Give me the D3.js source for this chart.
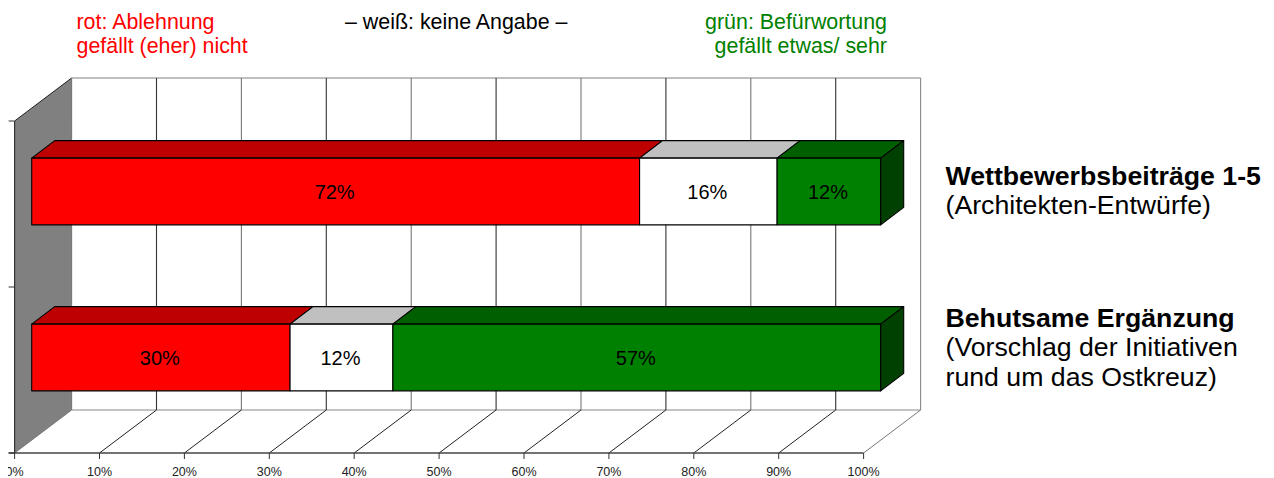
<!DOCTYPE html>
<html><head><meta charset="utf-8">
<script src="https://cdn.jsdelivr.net/npm/d3@7"></script>
<style>html,body{margin:0;padding:0;background:#fff}svg{display:block}text{font-family:"Liberation Sans",Arial,sans-serif}</style>
</head><body><svg id="c" width="1274" height="478"></svg>
<script>
const categories = ["Wettbewerbsbeiträge 1-5", "Behutsame Ergänzung"];
const categoryNotes = [["(Architekten-Entwürfe)"], ["(Vorschlag der Initiativen", "rund um das Ostkreuz)"]];
const ablehnung = [71.6, 30.4];
const keineAngabe = [16.2, 12.1];
const befuerwortung = [12.2, 57.4];
const seriesNames = ["ablehnung", "keineAngabe", "befuerwortung"];
const barLabels = [["72%", "16%", "12%"], ["30%", "12%", "57%"]];
const tickValues = [0, .1, .2, .3, .4, .5, .6, .7, .8, .9, 1];
const frontColors = ["#ff0000", "#ffffff", "#008000"];
const topColors = ["#bf0000", "#c0c0c0", "#006000"];
const sideColor = "#004000";

const svg = d3.select("#c");
const x = d3.scaleLinear().domain([0, 1]).range([14.6, 863.6]);
const y = d3.scaleBand().domain(categories).range([121, 453]);
const D = { x: 57, y: -43 }, B = { x: 23, y: -17.5 };
const barOff = { x: 17.1, y: -12.5 }, barH = 66.7;
const poly = (g, pts, fill, stroke, sw) => g.append("polygon").attr("points", pts.map(p => p.join(",")).join(" "))
  .attr("fill", fill).attr("stroke", stroke).attr("stroke-width", sw).attr("stroke-linejoin", "round");
const line = (g, a, b, stroke, sw) => g.append("line").attr("x1", a[0]).attr("y1", a[1]).attr("x2", b[0]).attr("y2", b[1]).attr("stroke", stroke).attr("stroke-width", sw);

const [y0, y1] = [453, 121];
const grid = svg.append("g");
poly(grid, [[x(0), y1], [x(0) + D.x, y1 + D.y], [x(0) + D.x, y0 + D.y], [x(0), y0]], "#808080", "none", 0);
line(grid, [x(0), y1], [x(0) + D.x, y1 + D.y], "#222", 1);
line(grid, [x(0), y0], [x(0) + D.x, y0 + D.y], "#777", 1);
line(grid, [x(0) + D.x, y1 + D.y], [x(1) + D.x, y1 + D.y], "#aaa", 1.4);
line(grid, [x(0) + D.x, y0 + D.y], [x(1) + D.x, y0 + D.y], "#888", 1.2);
tickValues.forEach(t => {
  const edge = t === 1, left = t === 0;
  line(grid, [x(t) + D.x, y1 + D.y], [x(t) + D.x, y0 + D.y], edge ? "#888" : left ? "#777" : (Math.round(t * 10) % 2 ? "#333" : "#777"), 1.1);
  if (!left) line(grid, [x(t), y0], [x(t) + D.x, y0 + D.y], edge ? "#777" : "#222", 1);
});
line(grid, [x(0), y1], [x(0), y0], "#333", 1.2);
line(grid, [x(0) - 6, y0], [x(1), y0], "#444", 1.3);
[y1, y1 + y.bandwidth(), y0].forEach(v => line(grid, [x(0) - 6, v], [x(0), v], "#333", 1));
tickValues.forEach(t => line(grid, [x(t), y0], [x(t), y0 + 6], "#333", 1));
grid.selectAll("text.tick").data(tickValues).join("text").attr("class", "tick")
  .attr("x", d => x(d)).attr("y", 476).attr("text-anchor", "middle")
  .attr("font-size", 12.5).attr("fill", "#222").text(d3.format(".0%"));

svg.append("rect").attr("x", 0).attr("y", 462).attr("width", 8).attr("height", 16).attr("fill", "#fff");

const stack = d3.stack().keys(seriesNames).offset(d3.stackOffsetExpand);
const rows = categories.map((c, i) => ({ ablehnung: ablehnung[i], keineAngabe: keineAngabe[i], befuerwortung: befuerwortung[i] }));
const stacked = stack(rows);
const bars = svg.append("g");
categories.forEach((c, i) => {
  const top = y(c) + y.bandwidth() / 2 - barH / 2 + barOff.y, bot = top + barH;
  stacked.forEach((s, k) => {
    const a = x(s[i][0]) + barOff.x, b = x(s[i][1]) + barOff.x;
    poly(bars, [[a, top], [a + B.x, top + B.y], [b + B.x, top + B.y], [b, top]], topColors[k], "#000", 1.1);
  });
  stacked.forEach((s, k) => {
    const a = x(s[i][0]) + barOff.x, b = x(s[i][1]) + barOff.x;
    poly(bars, [[a, top], [b, top], [b, bot], [a, bot]], frontColors[k], "#000", 1.1);
    bars.append("text").attr("x", (a + b) / 2 - 1).attr("y", (top + bot) / 2 + 7).attr("text-anchor", "middle")
      .attr("font-size", 20).attr("fill", "#000").text(barLabels[i][k]);
  });
  const e = x(1) + barOff.x;
  poly(bars, [[e, top], [e + B.x, top + B.y], [e + B.x, bot + B.y], [e, bot]], sideColor, "#000", 1.1);
});

const labY = [184.5, 326.5];
categories.forEach((c, i) => {
  const g = svg.append("g").attr("font-size", 26.7).attr("fill", "#000");
  g.append("text").attr("x", 945.5).attr("y", labY[i]).attr("font-weight", "bold").text(c);
  categoryNotes[i].forEach((n, j) => g.append("text").attr("x", 945.5).attr("y", labY[i] + 29.7 * (j + 1)).text(n));
});

const notes = [
  { t: ["rot: Ablehnung", "gefällt (eher) nicht"], x: 76.5, anchor: "start", c: "#ff0000" },
  { t: ["– weiß: keine Angabe –"], x: 345, anchor: "start", c: "#000" },
  { t: ["grün: Befürwortung", "gefällt etwas/ sehr"], x: 887, anchor: "end", c: "#008000" }
];
notes.forEach(n => n.t.forEach((s, j) => svg.append("text").attr("x", n.x).attr("y", 29 + j * 24)
  .attr("text-anchor", n.anchor).attr("font-size", 21.4).attr("fill", n.c).text(s)));
</script></body></html>
